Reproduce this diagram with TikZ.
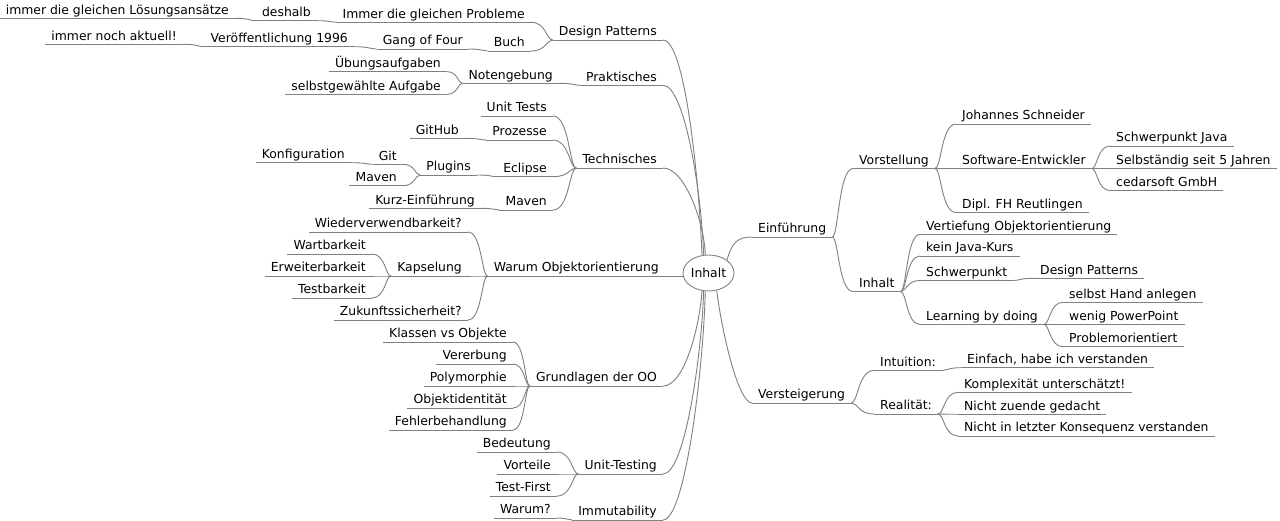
\documentclass[tikz,border=0pt]{standalone}
\usepackage{fontspec}
\newfontfamily\mmfont{DejaVu Sans}
\usetikzlibrary{calc,backgrounds,shapes.geometric}
\definecolor{edgegray}{RGB}{128,128,128}
\tikzset{
  base/.style={font=\mmfont\fontsize{12.4}{14}\selectfont, inner xsep=6pt, inner ysep=0pt, text height=9.2pt, text depth=4pt},
  L/.style={base, anchor=south east},
  R/.style={base, anchor=south west},
  ln/.style={draw=edgegray, line width=0.9pt},
  lk/.style={to path={let \p1=(\tikztostart), \p2=(\tikztotarget) in .. controls ({0.7*\x1+0.3*\x2},\y1) and ({0.7*\x1+0.3*\x2},\y2) .. (\tikztotarget)}},
  rootst/.style={ellipse, draw=edgegray, fill=white, line width=0.9pt, minimum width=51pt, minimum height=36pt, inner sep=0pt, font=\mmfont\fontsize{12.4}{14}\selectfont}
}
\begin{document}
\begin{tikzpicture}[x=1pt,y=-1pt]
\useasboundingbox (0,0) rectangle (1280,521);
% root
\node[rootst] (root) at (708.5,273) {Inhalt};
% left side
\node[L] (dp) at (663,40) {Design Patterns};
\node[L] (prob) at (531,22.3) {Immer die gleichen Probleme};
\node[L] (deshalb) at (317,20.7) {deshalb};
\node[L] (loes) at (235,18.3) {immer die gleichen Lösungsansätze};
\node[L] (buch) at (531,51) {Buch};
\node[L] (gof) at (469,49) {Gang of Four};
\node[L] (vero) at (354,46.7) {Veröffentlichung 1996};
\node[L] (aktuell) at (183,44.3) {immer noch aktuell!};
\node[L] (prak) at (663,85.3) {Praktisches};
\node[L] (noten) at (559,83.3) {Notengebung};
\node[L] (uebung) at (447,71.7) {Übungsaufgaben};
\node[L] (selbstg) at (447,94.3) {selbstgewählte Aufgabe};
\node[L] (tech) at (663,168) {Technisches};
\node[L] (utests) at (553,116) {Unit Tests};
\node[L] (proz) at (553,140) {Prozesse};
\node[L] (github) at (465,138.3) {GitHub};
\node[L] (eclipse) at (553,176.7) {Eclipse};
\node[L] (plugins) at (477,175) {Plugins};
\node[L] (git) at (403,164.3) {Git};
\node[L] (konfig) at (351,162.7) {Konfiguration};
\node[L] (mavena) at (403,185.7) {Maven};
\node[L] (mavenb) at (553,210) {Maven};
\node[L] (kurz) at (481,208.3) {Kurz-Einführung};
\node[L] (warum) at (665,276) {Warum Objektorientierung};
\node[L] (wieder) at (468,232) {Wiederverwendbarkeit?};
\node[L] (kapsel) at (468,276) {Kapselung};
\node[L] (wart) at (372,254) {Wartbarkeit};
\node[L] (erw) at (372,276) {Erweiterbarkeit};
\node[L] (testb) at (372,298) {Testbarkeit};
\node[L] (zuk) at (468,320) {Zukunftssicherheit?};
\node[L] (grund) at (663,386) {Grundlagen der OO};
\node[L] (klassen) at (513,342) {Klassen vs Objekte};
\node[L] (vererb) at (513,364) {Vererbung};
\node[L] (poly) at (513,386) {Polymorphie};
\node[L] (objid) at (513,408) {Objektidentität};
\node[L] (fehler) at (513,430) {Fehlerbehandlung};
\node[L] (unit) at (663,474) {Unit-Testing};
\node[L] (bedeut) at (557,452) {Bedeutung};
\node[L] (vort) at (557,474) {Vorteile};
\node[L] (tfirst) at (557,496) {Test-First};
\node[L] (immut) at (663,520) {Immutability};
\node[L] (warumq) at (557,518) {Warum?};
% right side
\node[R] (einf) at (752,237) {Einführung};
\node[R] (vorst) at (853,168.5) {Vorstellung};
\node[R] (johannes) at (956,124) {Johannes Schneider};
\node[R] (softw) at (956,168.5) {Software-Entwickler};
\node[R] (sjava) at (1110,146) {Schwerpunkt Java};
\node[R] (sfuenf) at (1110,168.5) {Selbständig seit 5 Jahren};
\node[R] (cedar) at (1110,190.5) {cedarsoft GmbH};
\node[R] (dipl) at (956,212.5) {Dipl. FH Reutlingen};
\node[R] (inh) at (853,291.5) {Inhalt};
\node[R] (vertief) at (920,234.3) {Vertiefung Objektorientierung};
\node[R] (kein) at (920,256) {kein Java-Kurs};
\node[R] (schwp) at (920,280.5) {Schwerpunkt};
\node[R] (dptwo) at (1034,278.3) {Design Patterns};
\node[R] (learn) at (920,324.5) {Learning by doing};
\node[R] (hand) at (1063,302.3) {selbst Hand anlegen};
\node[R] (wenig) at (1063,324.5) {wenig PowerPoint};
\node[R] (probl) at (1063,346.7) {Problemorientiert};
\node[R] (verst) at (752,403) {Versteigerung};
\node[R] (intu) at (874,370.5) {Intuition:};
\node[R] (einfach) at (961,367.7) {Einfach, habe ich verstanden};
\node[R] (real) at (874,414) {Realität:};
\node[R] (kompl) at (958,392.3) {Komplexität unterschätzt!};
\node[R] (nichtz) at (958,414.3) {Nicht zuende gedacht};
\node[R] (nichti) at (958,436) {Nicht in letzter Konsequenz verstanden};

\begin{pgfonlayer}{background}
\fill[white] (0,0) rectangle (1280,521);
% underlines
\foreach \n in {dp,prob,deshalb,loes,buch,gof,vero,aktuell,prak,noten,uebung,selbstg,tech,utests,proz,github,eclipse,plugins,git,konfig,mavena,mavenb,kurz,warum,wieder,kapsel,wart,erw,testb,zuk,grund,klassen,vererb,poly,objid,fehler,unit,bedeut,vort,tfirst,immut,warumq,einf,vorst,johannes,softw,sjava,sfuenf,cedar,dipl,inh,vertief,kein,schwp,dptwo,learn,hand,wenig,probl,verst,intu,einfach,real,kompl,nichtz,nichti}
  \draw[ln] (\n.south west) -- (\n.south east);
% root edges
\draw[ln] (dp.south east) .. controls +(22,0) and +(-3,-76) .. (root.110);
\draw[ln] (prak.south east) .. controls +(22,0) and +(-2,-60) .. (root.105);
\draw[ln] (tech.south east) .. controls +(22,0) and +(-1,-32) .. (root.100);
\draw[ln] (warum.south east) -- (root.west |- warum.south east);
\draw[ln] (grund.south east) .. controls +(22,0) and +(-2,33) .. (root.250);
\draw[ln] (unit.south east) .. controls +(22,0) and +(-2,64) .. (root.255);
\draw[ln] (immut.south east) .. controls +(22,0) and +(-2,80) .. (root.260);
\draw[ln] (root.35) .. controls +(5,-18) and +(-14,0) .. (einf.south west);
\draw[ln] (root.295) .. controls +(5,40) and +(-14,0) .. (verst.south west);
% left sub edges
\foreach \p/\c in {dp/prob,dp/buch,prob/deshalb,deshalb/loes,buch/gof,gof/vero,vero/aktuell,
  prak/noten,noten/uebung,noten/selbstg,
  tech/utests,tech/proz,tech/eclipse,tech/mavenb,proz/github,eclipse/plugins,plugins/git,plugins/mavena,git/konfig,mavenb/kurz,
  warum/wieder,warum/kapsel,warum/zuk,kapsel/wart,kapsel/erw,kapsel/testb,
  grund/klassen,grund/vererb,grund/poly,grund/objid,grund/fehler,
  unit/bedeut,unit/vort,unit/tfirst,immut/warumq}
  \draw[ln] (\p.south west) to[lk] (\c.south east);
% right sub edges
\foreach \p/\c in {einf/vorst,einf/inh,vorst/johannes,vorst/softw,vorst/dipl,softw/sjava,softw/sfuenf,softw/cedar,
  inh/vertief,inh/kein,inh/schwp,inh/learn,schwp/dptwo,learn/hand,learn/wenig,learn/probl,
  verst/intu,verst/real,intu/einfach,real/kompl,real/nichtz,real/nichti}
  \draw[ln] (\p.south east) to[lk] (\c.south west);
\end{pgfonlayer}
\end{tikzpicture}
\end{document}
